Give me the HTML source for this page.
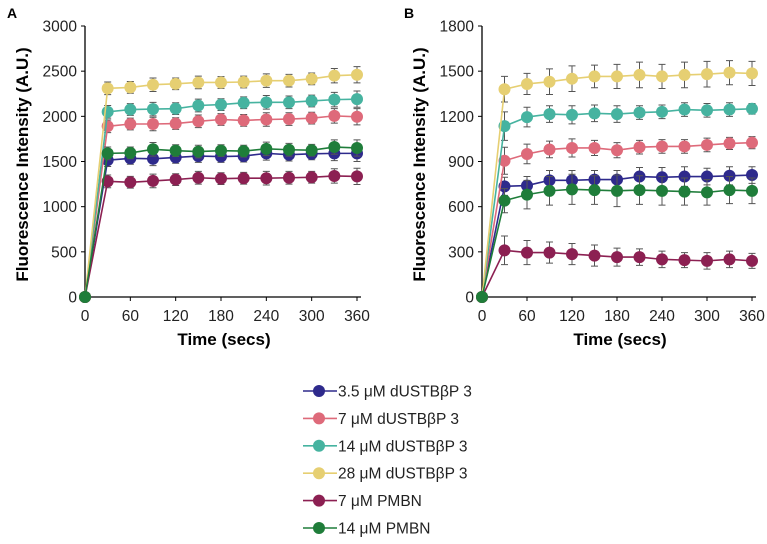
<!DOCTYPE html>
<html><head><meta charset="utf-8"><style>
body{margin:0;background:#fff;width:767px;height:539px;overflow:hidden;font-family:"Liberation Sans",sans-serif}
</style></head><body>
<svg id="s" width="767" height="539" xmlns="http://www.w3.org/2000/svg" font-family="Liberation Sans, sans-serif"></svg>
<script>
const times=[0,30,60,90,120,150,180,210,240,270,300,330,360];
const seriesNames=["3.5 μM dUSTBβP 3","7 μM dUSTBβP 3","14 μM dUSTBβP 3","28 μM dUSTBβP 3","7 μM PMBN","14 μM PMBN"];
const seriesColors=["#2e2a8c","#de6a7a","#46b3a0","#e6cf72","#8c2052","#1f7d3a"];
const xTicks=[0,60,120,180,240,300,360];
const aTicks=[0,500,1000,1500,2000,2500,3000];
const bTicks=[0,300,600,900,1200,1500,1800];
const aNavy=[0,1515,1535,1530,1545,1560,1555,1560,1590,1575,1585,1590,1590];
const aPink=[0,1890,1915,1915,1920,1945,1965,1955,1965,1970,1980,2005,1995];
const aTeal=[0,2050,2075,2080,2085,2120,2130,2150,2155,2155,2170,2185,2190];
const aYellow=[0,2310,2320,2350,2360,2375,2375,2380,2395,2395,2415,2450,2460];
const aMaroon=[0,1280,1270,1285,1300,1320,1310,1315,1315,1320,1325,1340,1335];
const aGreen=[0,1590,1595,1635,1620,1610,1620,1615,1640,1630,1625,1660,1650];
const aErr=[0,70,65,75,65,70,65,65,75,70,65,80,90];
const bNavy=[0,735,740,775,775,780,780,800,795,800,800,805,810];
const bPink=[0,905,950,980,990,990,975,995,1000,1000,1010,1020,1025];
const bTeal=[0,1135,1195,1215,1210,1220,1215,1225,1230,1245,1240,1245,1250];
const bYellow=[0,1380,1415,1430,1450,1465,1465,1475,1465,1475,1480,1490,1485];
const bMaroon=[0,310,295,295,285,275,265,265,250,245,240,250,240];
const bGreen=[0,640,680,705,715,710,705,710,705,700,695,710,705];
const bErrNavy=[0,60,60,65,65,60,60,60,65,65,55,60,55];
const bErrPink=[0,90,65,55,60,50,50,45,45,45,45,40,40];
const bErrTeal=[0,95,65,55,60,55,55,45,45,45,45,45,35];
const bErrYellow=[0,85,70,85,85,75,80,85,80,85,85,80,80];
const bErrMaroon=[0,95,80,70,70,70,60,55,55,50,55,55,50];
const bErrGreen=[0,80,95,95,100,95,105,95,95,90,85,90,85];
const NS="http://www.w3.org/2000/svg",svg=document.getElementById('s');
function mk(t,a,p){const e=document.createElementNS(NS,t);for(const k in a)e.setAttribute(k,a[k]);(p||svg).appendChild(e);return e;}
function panel(label,x0,x1,ymax,yTicks,data,errs,name){
 const g=mk('g',{});
 
 
 const y0=297,y1=26;
 const X=t=>x0+(x1-x0)*t/360, Y=v=>y0-(y0-y1)*v/ymax;
 const pl=mk('text',{x:x0-78,y:18,'font-size':14,'font-weight':'bold'},g);pl.textContent=label;
 
 const ax=mk('path',{d:`M${x0} ${y1}V${y0}H${x1+4}`,stroke:'#000','stroke-width':1.3,fill:'none'},g);
 
 yTicks.forEach(v=>{mk('line',{x1:x0-4,x2:x0,y1:Y(v),y2:Y(v),stroke:'#000'},g);
  const t=mk('text',{x:x0-8,y:Y(v)+5.5,'text-anchor':'end','font-size':15.5,fill:'#222'},g);t.textContent=v;
  });
 xTicks.forEach(v=>{mk('line',{x1:X(v),x2:X(v),y1:y0,y2:y0+4,stroke:'#000'},g);
  const t=mk('text',{x:X(v),y:y0+24,'text-anchor':'middle','font-size':15.5,fill:'#222'},g);t.textContent=v;
  });
 const xt=mk('text',{x:(x0+x1)/2+3,y:345,'text-anchor':'middle','font-size':17,'font-weight':'bold'},g);xt.textContent='Time (secs)';
 
 const cy=(y0+y1)/2+3;
 const yt=mk('text',{x:x0-57,y:cy,'text-anchor':'middle','font-size':17,'font-weight':'bold',transform:`rotate(-90 ${x0-57} ${cy})`},g);yt.textContent='Fluorescence Intensity (A.U.)';
 
 data.forEach((d,i)=>{const sg=mk('g',{},g);
  
  const e=errs[i];
  d.forEach((v,j)=>{if(!e[j])return;const x=X(times[j]);
   mk('path',{d:`M${x} ${Y(v-e[j])}V${Y(v+e[j])}M${x-3.5} ${Y(v-e[j])}h7M${x-3.5} ${Y(v+e[j])}h7`,stroke:'#555','stroke-width':1,fill:'none'},sg);});
  mk('polyline',{points:d.map((v,j)=>X(times[j])+','+Y(v)).join(' '),stroke:seriesColors[i],'stroke-width':1.6,fill:'none'},sg);
  d.forEach((v,j)=>{const c=mk('circle',{cx:X(times[j]),cy:Y(v),r:6,fill:seriesColors[i]},sg);
   });
 });
}
panel('A',85,357,3000,aTicks,[aNavy,aPink,aTeal,aYellow,aMaroon,aGreen],[aErr,aErr,aErr,aErr,aErr,aErr],'panel-a');
panel('B',482,752,1800,bTicks,[bNavy,bPink,bTeal,bYellow,bMaroon,bGreen],[bErrNavy,bErrPink,bErrTeal,bErrYellow,bErrMaroon,bErrGreen],'panel-b');
const lg=mk('g',{});


seriesNames.forEach((n,i)=>{const y=391+i*27.4;const eg=mk('g',{},lg);
 
 mk('line',{x1:303,x2:337,y1:y,y2:y,stroke:seriesColors[i],'stroke-width':1.6},eg);
 mk('circle',{cx:319,cy:y,r:6,fill:seriesColors[i]},eg);
 const t=mk('text',{x:338,y:y+5.5,'font-size':15.5,fill:'#222'},eg);t.textContent=n;});
</script>
</body></html>
